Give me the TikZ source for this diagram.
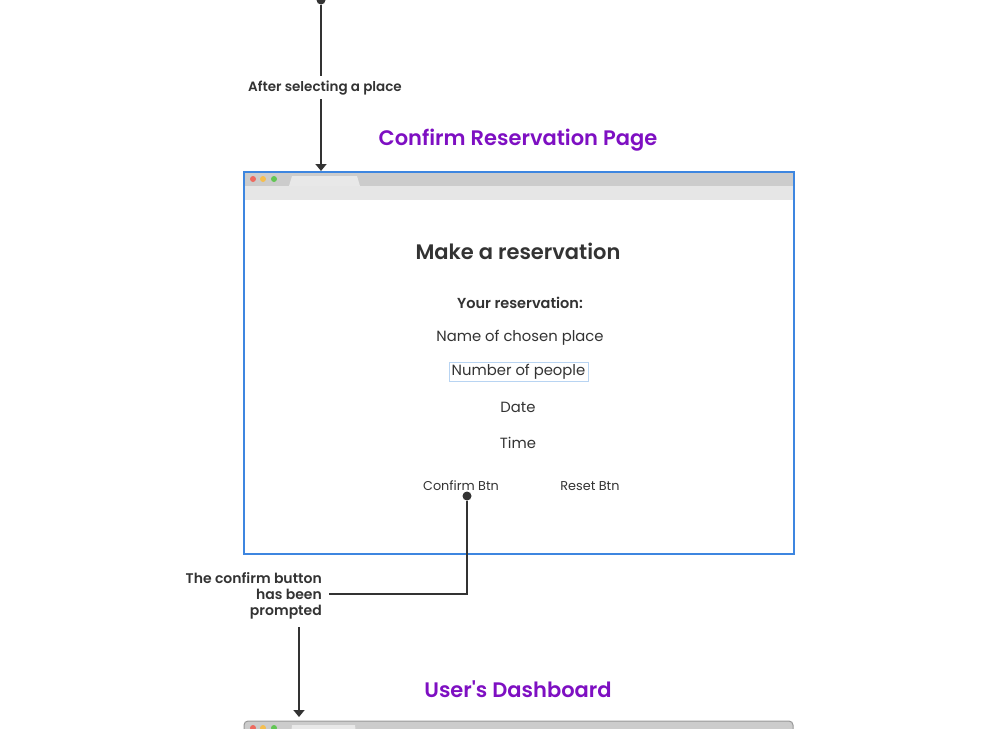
\documentclass[tikz,border=0pt]{standalone}
\usepackage{fontspec}
\setmainfont{Poppins}[BoldFont={Poppins SemiBold}, Ligatures=TeXOff]
\usetikzlibrary{arrows.meta}
\definecolor{ink}{HTML}{333333}
\definecolor{purp}{HTML}{7E0FC2}
\definecolor{winblue}{HTML}{3D86E0}
\definecolor{bargray}{HTML}{CCCCCC}
\definecolor{toolgray}{HTML}{E6E6E6}
\definecolor{tabgray}{HTML}{E8E8E8}
\definecolor{dred}{HTML}{EE6A5F}
\definecolor{dyel}{HTML}{F5BE4F}
\definecolor{dgrn}{HTML}{62C654}
\definecolor{boxblue}{HTML}{B8D4F2}
\tikzset{
  conn/.style={draw=ink, line width=1.6pt},
  arr/.style={conn, -{Triangle[length=7pt,width=11pt]}},
  dotend/.style={circle, fill=ink, inner sep=0pt, minimum size=9pt},
  lbl/.style={text=ink, font=\fontsize{13.5}{16}\selectfont\bfseries, inner sep=1pt, yshift=-1.5pt},
  ttl/.style={text=purp, font=\fontsize{21}{24}\selectfont\bfseries, inner sep=0pt, yshift=-1.5pt},
  body/.style={text=ink, font=\fontsize{14.8}{17}\selectfont, inner sep=0pt, yshift=-1.5pt},
  small/.style={text=ink, font=\fontsize{12.8}{15}\selectfont, inner sep=0pt, yshift=-1pt},
}
\begin{document}
\begin{tikzpicture}[x=1pt,y=-1pt]
\useasboundingbox (0,0) rectangle (984,728);
% top connector
\node[dotend] (topdot) at (321,0) {};
\node[lbl] (after) at (325,87) {After selecting a place};
\coordinate (win1top) at (321,171);
\draw[conn] (topdot) -- (321,76);
\draw[arr] (321,99) -- (win1top);
% title
\node[ttl] (t1) at (518,139) {Confirm Reservation Page};
% browser window 1
\fill[white] (243,171) rectangle (793,553);
\fill[bargray] (243,171) rectangle (793,186);
\fill[toolgray] (243,186) rectangle (793,200);
\fill[tabgray] (289,186) -- (292,176) -- (357,176) -- (360,186) -- cycle;
\fill[dred] (253,179) circle (3);
\fill[dyel] (263,179) circle (3);
\fill[dgrn] (274,179) circle (3);
\node[draw=winblue, line width=1.6pt, minimum width=550pt, minimum height=382pt, inner sep=0pt, anchor=north west] (win1) at (243,171) {};
% content
\node[text=ink, font=\fontsize{21}{24}\selectfont\bfseries, inner sep=0pt] (make) at (518,251) {Make a reservation};
\node[text=ink, font=\fontsize{14.5}{17}\selectfont\bfseries, inner sep=0pt, yshift=-1.5pt] (yourres) at (520,301) {Your reservation:};
\node[body] (name) at (520,336) {Name of chosen place};
\node[text=ink, font=\fontsize{14.8}{17}\selectfont, draw=boxblue, line width=0.8pt, minimum width=139pt, minimum height=19pt, inner sep=0pt] (num) at (518.5,371.5) {\raisebox{-1.5pt}{Number of people}};
\node[body] (date) at (518,406) {Date};
\node[body] (time) at (518,441) {Time};
\node[small] (confirm) at (461,485) {Confirm Btn};
\node[small] (reset) at (590,485) {Reset Btn};
% confirm connector
\node[dotend] (cdot) at (467,496) {};
\node[lbl, align=right, anchor=east, font=\fontsize{14}{16}\selectfont\bfseries] (prompt) at (323,594) {The confirm button\\has been\\prompted};
\draw[conn] (cdot) |- ([xshift=6pt,yshift=1.5pt]prompt.east);
\coordinate (win2top) at (299,717);
\draw[arr] (299,627) -- (win2top);
% title 2
\node[ttl] (t2) at (518,688) {User's Dashboard};
% browser window 2 (partial)
\begin{scope}
\clip (0,0) rectangle (984,728);
\draw[fill=bargray, draw=gray!80, line width=1pt, rounded corners=4pt] (244,721) rectangle (793,760);
\fill[tabgray] (291,735) -- (292,725) -- (355,725) -- (356,735) -- cycle;
\fill[dred] (253,728) circle (3);
\fill[dyel] (263,728) circle (3);
\fill[dgrn] (274,728) circle (3);
\end{scope}
\end{tikzpicture}
\end{document}
